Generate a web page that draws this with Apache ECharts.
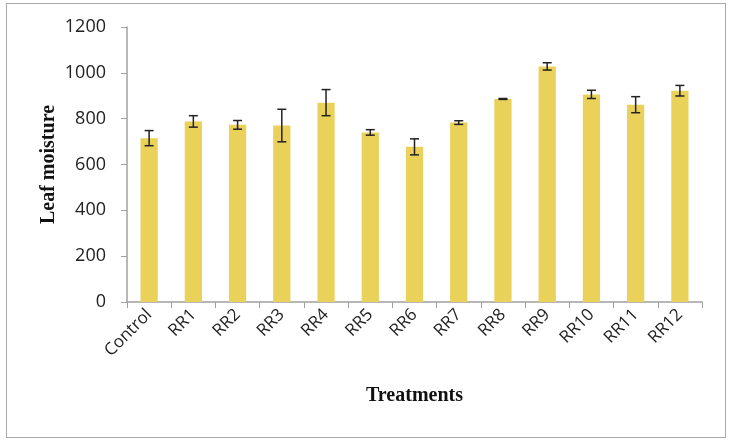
<!DOCTYPE html>
<html>
<head>
<meta charset="utf-8">
<script src="https://cdn.jsdelivr.net/npm/echarts@6/dist/echarts.min.js"></script>
<style>
  html, body { margin: 0; padding: 0; background: #fff; }
  #frame { position: absolute; left: 6px; top: 3px; width: 718px; height: 433px; border: 1.5px solid #a9a9a9; }
  #chart { width: 731px; height: 442px; }
</style>
</head>
<body>
<div id="frame"></div>
<div id="chart"></div>
<script>
var categories = ["Control", "RR1", "RR2", "RR3", "RR4", "RR5", "RR6", "RR7", "RR8", "RR9", "RR10", "RR11", "RR12"];
var moisture = [715, 788, 773, 770, 870, 740, 677, 783, 886, 1028, 906, 861, 922];
var errors = [33, 25, 19, 71, 57, 12, 35, 8, 2, 16, 18, 35, 23];

var errData = moisture.map(function (v, i) {
  return [i, v - errors[i], v + errors[i]];
});

var myChart = echarts.init(document.getElementById("chart"));
var option = {
  backgroundColor: "transparent",
  animation: false,
  grid: { left: 127, right: 29, top: 27, bottom: 140 },
  xAxis: {
    type: "category",
    data: categories,
    name: "Treatments",
    nameLocation: "middle",
    nameGap: 84,
    nameMoveOverlap: false,
    nameTextStyle: { fontFamily: "Liberation Serif", fontWeight: "bold", fontSize: 20, color: "#111" },
    axisLine: { lineStyle: { color: "#a0a0a0", width: 1.5 } },
    axisTick: { show: true, alignWithLabel: false, length: 6, lineStyle: { color: "#a0a0a0" } },
    axisLabel: { rotate: 45, fontFamily: "Open Sans", fontSize: 17, color: "#222", margin: 10 }
  },
  yAxis: {
    type: "value",
    min: 0,
    max: 1200,
    interval: 200,
    name: "Leaf moisture",
    nameLocation: "middle",
    nameGap: 68,
    nameMoveOverlap: false,
    nameTextStyle: { fontFamily: "Liberation Serif", fontWeight: "bold", fontSize: 20, color: "#111" },
    axisLine: { show: true, lineStyle: { color: "#a0a0a0", width: 1.5 } },
    axisTick: { show: true, length: 6, lineStyle: { color: "#a0a0a0" } },
    axisLabel: {
      fontFamily: "Open Sans", fontSize: 18, color: "#222", margin: 21,
      formatter: function (v) { return String(v); }
    },
    splitLine: { show: false }
  },
  series: [
    {
      type: "bar",
      data: moisture,
      barWidth: "39%",
      itemStyle: { color: "#EAD15A" }
    },
    {
      type: "custom",
      data: errData,
      z: 10,
      renderItem: function (params, api) {
        var x = api.value(0);
        var lo = api.coord([x, api.value(1)]);
        var hi = api.coord([x, api.value(2)]);
        var hw = 4.5;
        var style = { stroke: "#222", lineWidth: 1.5 };
        return {
          type: "group",
          children: [
            { type: "line", shape: { x1: lo[0], y1: lo[1], x2: hi[0], y2: hi[1] }, style: style },
            { type: "line", shape: { x1: lo[0] - hw, y1: lo[1], x2: lo[0] + hw, y2: lo[1] }, style: style },
            { type: "line", shape: { x1: hi[0] - hw, y1: hi[1], x2: hi[0] + hw, y2: hi[1] }, style: style }
          ]
        };
      }
    }
  ]
};
myChart.setOption(option);
</script>
</body>
</html>
